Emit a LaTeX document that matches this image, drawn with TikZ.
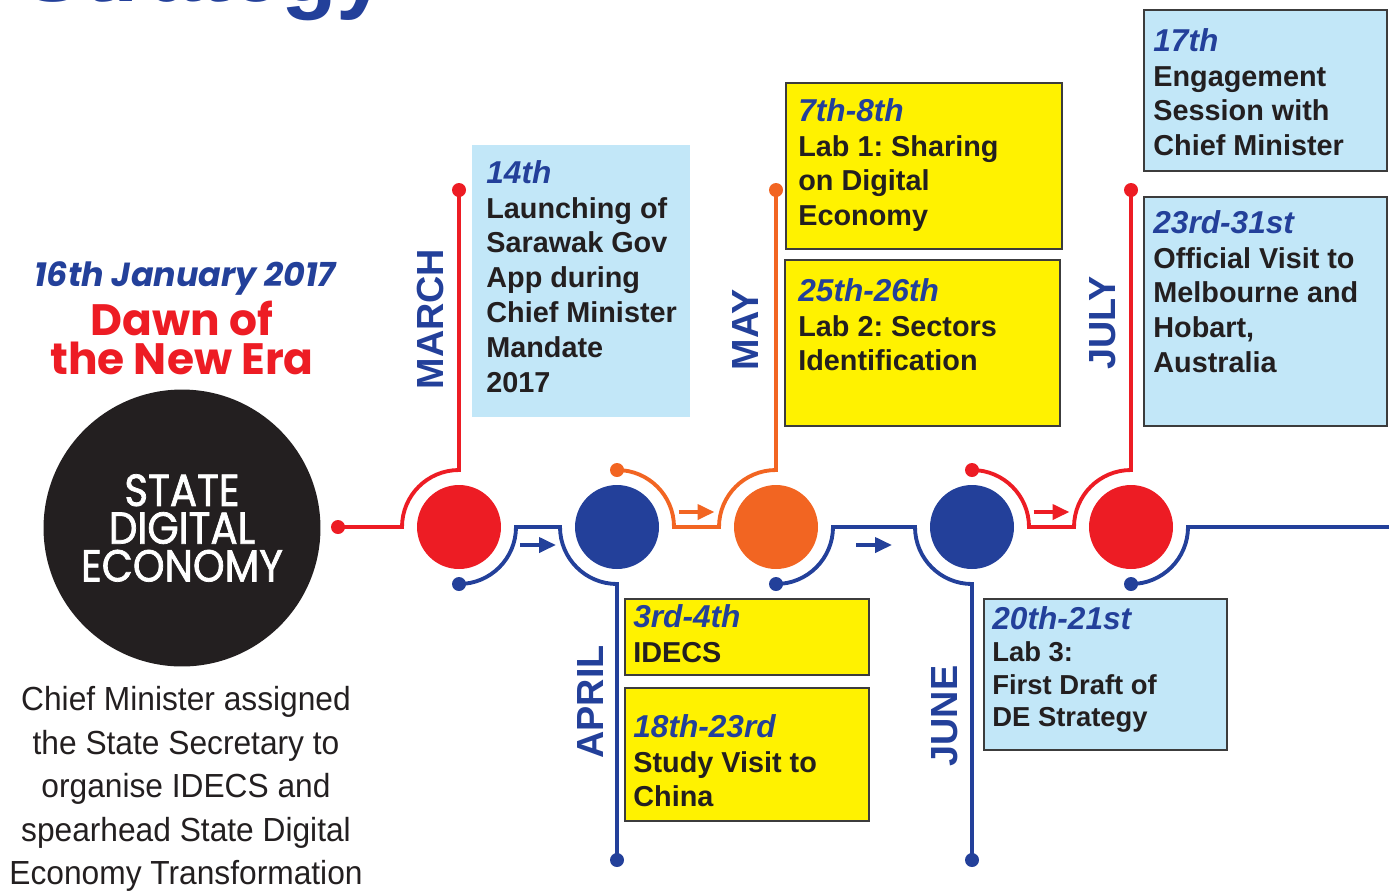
\documentclass[tikz,border=0pt]{standalone}
\usepackage{fontspec}
\setmainfont{Liberation Sans}
\newfontfamily\geofont{Poppins}
\newfontfamily\condfont[FakeStretch=0.9, FakeBold=1.6]{Poppins}
\newfontfamily\narrowfont[FakeStretch=0.95]{Liberation Sans}
\usetikzlibrary{arrows.meta,calc}
\definecolor{sdblue}{HTML}{23409A}
\definecolor{sdred}{HTML}{ED1C24}
\definecolor{sdorange}{HTML}{F26522}
\definecolor{sdyellow}{HTML}{FFF200}
\definecolor{sdsky}{HTML}{C2E7F8}
\definecolor{sdink}{HTML}{231F20}
\definecolor{sdgrey}{HTML}{3C3C3C}
\newcommand{\dayof}[1]{{\fontsize{18}{19.8}\selectfont\itshape\color{sdblue}#1}}
\frenchspacing
\begin{document}
\begin{tikzpicture}[x=0.02cm, y=-0.02cm,
    ring/.style={line width=2.2pt},
    hub/.style={circle, inner sep=0pt, minimum size=1.68cm},
    pin/.style={circle, inner sep=0pt, minimum size=0.28cm},
    month/.style={rotate=90, text=sdblue, font=\fontsize{21.5}{24}\selectfont\bfseries},
    card/.style={anchor=north west, inner sep=0pt, outer sep=0pt},
    cardtext/.style={anchor=north west, inner sep=0pt, align=left, text=sdink,
      font=\fontsize{16.4}{19.8}\selectfont\bfseries},
    flow/.style={line width=2.2pt, -{Triangle[length=0.34cm, width=0.3cm]}}]
  \useasboundingbox (0,0) rectangle (1389,890);
  \node[anchor=base west, text=sdblue, font=\fontsize{52}{52}\selectfont\bfseries] (head) at (16,1) {Strategy};

  \node[text=sdblue, font=\geofont\fontsize{19}{22}\selectfont\bfseries\itshape] (jan) at (185,278) {16th January 2017};
  \node[align=center, text=sdred, font=\geofont\fontsize{25}{22.7}\selectfont\bfseries] (era) at (182,338) {Dawn of\\the New Era};
  \node[circle, fill=sdink, minimum size=5.54cm, align=center, text=white,
    font=\condfont\fontsize{25.5}{21.5}\selectfont] (core) at (182,528) {STATE\\DIGITAL\\ECONOMY};
  \node[align=center, text=sdink, font=\narrowfont\fontsize{19}{24.7}\selectfont] (brief) at (186,789)
    {Chief Minister assigned\\the State Secretary to\\organise IDECS and\\spearhead State Digital\\Economy Transformation};

  \node[hub, fill=sdred] (c1) at (459,527) {};
  \node[hub, fill=sdblue] (c2) at (617,527) {};
  \node[hub, fill=sdorange] (c3) at (776,527) {};
  \node[hub, fill=sdblue] (c4) at (972,527) {};
  \node[hub, fill=sdred] (c5) at (1131,527) {};

  \node[pin, fill=sdred] (s0) at (338,527) {};
  \node[pin, fill=sdred] (m1) at (459,190) {};
  \node[pin, fill=sdblue] (d1) at (459,584) {};
  \node[pin, fill=sdblue] (a1) at (617,860) {};
  \node[pin, fill=sdorange] (o1) at (617,470) {};
  \node[pin, fill=sdorange] (m2) at (776,190) {};
  \node[pin, fill=sdblue] (d2) at (776,584) {};
  \node[pin, fill=sdblue] (a2) at (972,860) {};
  \node[pin, fill=sdred] (o2) at (972,470) {};
  \node[pin, fill=sdred] (m3) at (1131,190) {};
  \node[pin, fill=sdblue] (d3) at (1131,584) {};
  \coordinate (e1) at (1395,527);

  \begin{scope}[ring]
    \draw[sdred] (s0.center) -- ++(64,0) arc[start angle=180, end angle=270, radius=57] -- (m1.center);
    \draw[sdblue] (d1.center) arc[start angle=90, end angle=0, radius=57] -- ++(44,0)
      arc[start angle=180, end angle=90, radius=57] -- (a1.center);
    \draw[sdorange] (o1.center) arc[start angle=270, end angle=360, radius=57] -- ++(45,0)
      arc[start angle=180, end angle=270, radius=57] -- (m2.center);
    \draw[sdblue] (d2.center) arc[start angle=90, end angle=0, radius=57] -- ++(82,0)
      arc[start angle=180, end angle=90, radius=57] -- (a2.center);
    \draw[sdred] (o2.center) arc[start angle=270, end angle=360, radius=57] -- ++(45,0)
      arc[start angle=180, end angle=270, radius=57] -- (m3.center);
    \draw[sdblue] (d3.center) arc[start angle=90, end angle=0, radius=57] -- (e1);
  \end{scope}

  \foreach \a/\b/\dy/\col in {c1/c2/18/sdblue, c2/c3/-15/sdorange, c3/c4/18/sdblue, c4/c5/-15/sdred} {
    \coordinate (mid) at ($(\a)!0.5!(\b)$);
    \draw[flow, \col] ([shift={(-18,\dy)}]mid) -- ([shift={(18,\dy)}]mid);
  }

  \node[month] (mar) at (430,319) {MARCH};
  \node[month] (apr) at (590,702) {APRIL};
  \node[month] (may) at (745,330) {MAY};
  \node[month] (jun) at (945,716) {JUNE};
  \node[month] (jul) at (1103,323) {JULY};

  \node[card, fill=sdsky, minimum width=4.36cm, minimum height=5.44cm] (launch) at (472,145) {};
  \node[card, fill=sdyellow, draw=sdgrey, line width=0.9pt, minimum width=5.52cm, minimum height=3.32cm] (labone) at (786,83) {};
  \node[card, fill=sdyellow, draw=sdgrey, line width=0.9pt, minimum width=5.5cm, minimum height=3.32cm] (labtwo) at (785,260) {};
  \node[card, fill=sdsky, draw=sdgrey, line width=0.9pt, minimum width=4.86cm, minimum height=3.22cm] (engage) at (1144,10) {};
  \node[card, fill=sdsky, draw=sdgrey, line width=0.9pt, minimum width=4.86cm, minimum height=4.58cm] (visit) at (1144,197) {};
  \node[card, fill=sdyellow, draw=sdgrey, line width=0.9pt, minimum width=4.88cm, minimum height=1.52cm] (idecs) at (625,599) {};
  \node[card, fill=sdyellow, draw=sdgrey, line width=0.9pt, minimum width=4.88cm, minimum height=2.66cm] (china) at (625,688) {};
  \node[card, fill=sdsky, draw=sdgrey, line width=0.9pt, minimum width=4.86cm, minimum height=3.02cm] (labthree) at (984,599) {};

  \node[cardtext] (launchtxt) at ([shift={(14,15)}]launch.north west)
    {\dayof{14th}\\Launching of\\Sarawak Gov\\App during\\Chief Minister\\Mandate\\2017};
  \node[cardtext] (labonetxt) at ([shift={(12,15)}]labone.north west)
    {\dayof{7th-8th}\\Lab 1: Sharing\\on Digital\\Economy};
  \node[cardtext] (labtwotxt) at ([shift={(13,18)}]labtwo.north west)
    {\dayof{25th-26th}\\Lab 2: Sectors\\Identification};
  \node[cardtext] (engagetxt) at ([shift={(9,18)}]engage.north west)
    {\dayof{17th}\\Engagement\\Session with\\Chief Minister};
  \node[cardtext] (visittxt) at ([shift={(9,13)}]visit.north west)
    {\dayof{23rd-31st}\\Official Visit to\\Melbourne and\\Hobart,\\Australia};
  \node[cardtext] (idecstxt) at ([shift={(8,5)}]idecs.north west)
    {\dayof{3rd-4th}\\IDECS};
  \node[cardtext] (chinatxt) at ([shift={(8,26)}]china.north west)
    {\dayof{18th-23rd}\\Study Visit to\\China};
  \node[cardtext, font=\fontsize{15.6}{18.5}\selectfont\bfseries] (labthreetxt) at ([shift={(8,7)}]labthree.north west)
    {\dayof{20th-21st}\\Lab 3:\\First Draft of\\DE Strategy};
\end{tikzpicture}
\end{document}
